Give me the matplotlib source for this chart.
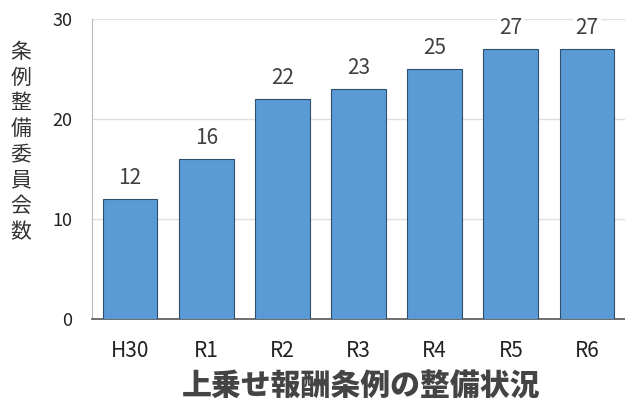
import matplotlib
matplotlib.use("Agg")
import matplotlib.pyplot as plt

plt.rcParams['font.family'] = ['Noto Sans CJK JP', 'DejaVu Sans']

categories = ["H30", "R1", "R2", "R3", "R4", "R5", "R6"]
values = [12, 16, 22, 23, 25, 27, 27]
yticks = [0, 10, 20, 30]
ylabel = "条例整備委員会数"
title = "上乗せ報酬条例の整備状況"

fig = plt.figure(figsize=(6.25, 4.07), dpi=100)
ax = fig.add_axes([92 / 625, 1 - 319 / 407, (625 - 92) / 625, 300 / 407])

x = list(range(len(categories)))
ax.bar(x, values, width=0.72, color="#5B9BD5", edgecolor="#2F4F6F", linewidth=0.8, zorder=3)
for xi, v in zip(x, values):
    ax.annotate(str(v), (xi, v), xytext=(0, 7), textcoords="offset points",
                ha="center", va="bottom", fontsize=15, color="#404040",
                bbox=dict(boxstyle="square,pad=0.1", fc="white", ec="none"), zorder=4)

ax.set_xlim(-0.5, len(categories) - 0.5)
ax.set_ylim(0, 30)
ax.set_yticks(yticks)
ax.set_xticks(x)
ax.set_xticklabels(categories, fontsize=15, color="#222222")
ax.tick_params(axis="y", labelsize=13, colors="#222222", length=0, pad=14)
ax.tick_params(axis="x", length=0, pad=15)
ax.yaxis.grid(True, color="#E0E0E0", linewidth=1, zorder=0)
for s in ["top", "right"]:
    ax.spines[s].set_visible(False)
ax.spines["left"].set_color("#BBBBBB")
ax.spines["bottom"].set_color("#555555")
ax.spines["bottom"].set_linewidth(1.2)

fig.text(21 / 625, 1 - 142 / 407, "\n".join(ylabel), ha="center", va="center",
         fontsize=15, color="#333333", linespacing=1.22)
fig.text(361 / 625, 1 - 386 / 407, title, ha="center", va="center",
         fontsize=21.5, fontweight="black", color="#444444")

fig.savefig("out.png", dpi=100)
